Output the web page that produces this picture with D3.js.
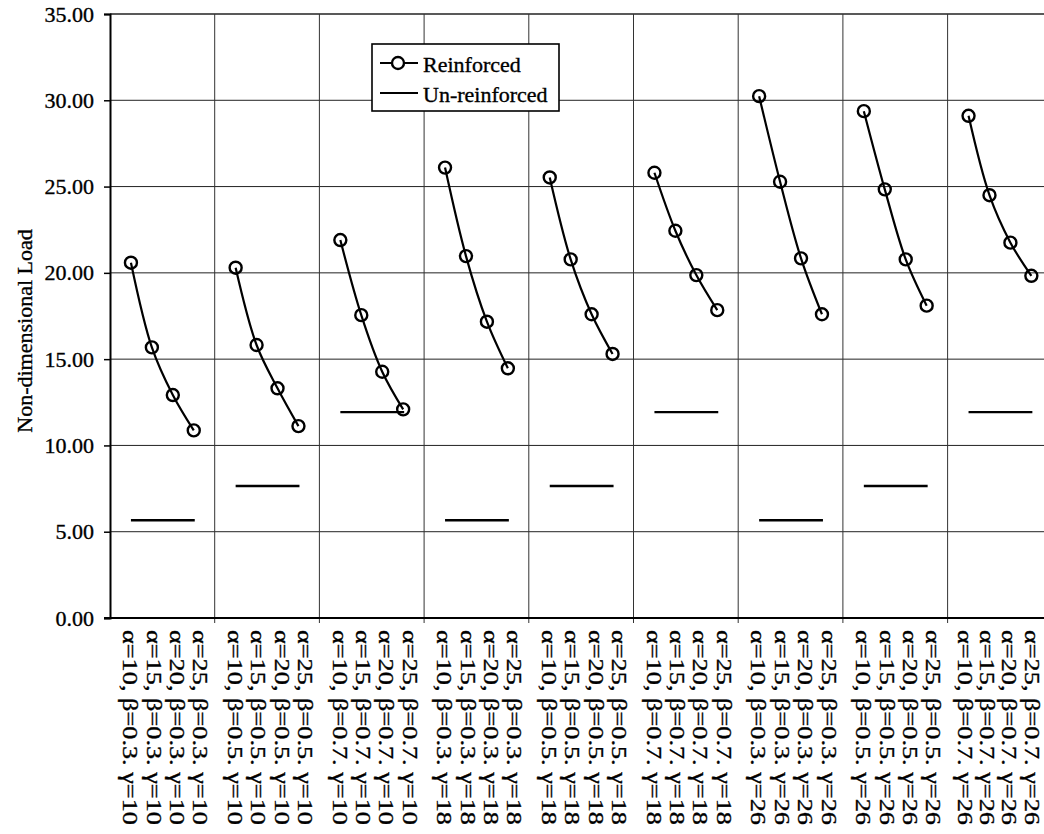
<!DOCTYPE html>
<html>
<head>
<meta charset="utf-8">
<script src="https://cdn.jsdelivr.net/npm/d3@7"></script>
<style>
  html, body { margin: 0; padding: 0; background: #fff; }
  svg { display: block; font-family: "Liberation Serif", "Times New Roman", serif; }
</style>
</head>
<body>
<svg id="chart" width="1044" height="834"></svg>
<script>
// ---- data ----
const alphas = [10, 15, 20, 25];
const betas = ["0.3", "0.5", "0.7", "0.3", "0.5", "0.7", "0.3", "0.5", "0.7"];
const gammas = [10, 10, 10, 18, 18, 18, 26, 26, 26];
const reinforced = [
  [20.59, 15.68, 12.92, 10.87],
  [20.30, 15.82, 13.31, 11.12],
  [21.90, 17.55, 14.27, 12.09],
  [26.10, 20.97, 17.17, 14.47],
  [25.53, 20.78, 17.60, 15.30],
  [25.80, 22.44, 19.87, 17.84],
  [30.24, 25.28, 20.84, 17.60],
  [29.37, 24.84, 20.78, 18.10],
  [29.10, 24.50, 21.75, 19.83]
];
const unreinforced = [5.66, 7.65, 11.93, 5.66, 7.65, 11.93, 5.66, 7.65, 11.93];
const yTicks = [0, 5, 10, 15, 20, 25, 30, 35];
const seriesNames = ["Reinforced", "Un-reinforced"];
const yTitle = "Non-dimensional Load";

// ---- layout ----
const plotLeft = 110, plotTop = 14, plotBottom = 618, groupW = 104.7;
const nG = betas.length;
const svg = d3.select("#chart");

const y = d3.scaleLinear().domain([0, 35]).range([plotBottom, plotTop]);
const xg = d3.scaleLinear().domain([0, nG]).range([plotLeft, plotLeft + nG * groupW]);
const xp = d3.scalePoint().domain(alphas).range([0.2, 0.8]);
const xl = d3.scalePoint().domain(alphas).range([0.127, 0.796]);
const xlLast = d3.scalePoint().domain(alphas).range([0.10, 0.735]); // squeezed at right edge
const px = (g, a) => xg(g + xp(a));
const txtStyle = sel => sel.attr("fill", "#000").attr("stroke", "#000").attr("stroke-width", 0.35);

// gridlines horizontal
svg.append("g").selectAll("line").data(yTicks.filter(d => d > 0)).join("line")
  .attr("x1", plotLeft).attr("x2", 1044)
  .attr("y1", d => y(d)).attr("y2", d => y(d))
  .attr("stroke", "#222").attr("stroke-width", d => d === 35 ? 1.6 : 1);

// gridlines vertical (group boundaries)
const bounds = d3.range(1, nG + 1);
svg.append("g").selectAll("line").data(bounds).join("line")
  .attr("x1", d => xg(d)).attr("x2", d => xg(d))
  .attr("y1", plotTop).attr("y2", plotBottom + 5)
  .attr("stroke", "#333").attr("stroke-width", 1);

// y axis
const yAxis = d3.axisLeft(y).tickValues(yTicks).tickFormat(d3.format(".2f")).tickSize(6).tickPadding(10);
const yg = svg.append("g").attr("transform", `translate(${plotLeft},0)`).call(yAxis);
yg.select(".domain").attr("stroke", "#000").attr("stroke-width", 2);
yg.selectAll(".tick line").attr("stroke", "#000").attr("stroke-width", 1.5);
yg.selectAll(".tick text").attr("font-family", "Liberation Serif, Times New Roman, serif")
  .attr("font-size", 22).call(txtStyle);

// x axis baseline
svg.append("line").attr("x1", plotLeft - 6).attr("x2", 1044)
  .attr("y1", plotBottom).attr("y2", plotBottom)
  .attr("stroke", "#000").attr("stroke-width", 2);

// x labels
const labels = [];
betas.forEach((b, g) => alphas.forEach(a => labels.push({g, a, text: `α=${a}, β=${b}. γ=${gammas[g]}`})));
svg.append("g").selectAll("text").data(labels).join("text")
  .attr("transform", d => `translate(${xg(d.g + (d.g === nG - 1 ? xlLast(d.a) : xl(d.a)))},${plotBottom + 12}) rotate(90)`)
  .attr("text-anchor", "start")
  .attr("font-size", 22)
  .attr("textLength", 195).attr("lengthAdjust", "spacingAndGlyphs")
  .call(txtStyle)
  .text(d => d.text);

// y title
svg.append("text").attr("transform", `translate(32,${(plotTop + plotBottom) / 2 + 15}) rotate(-90)`)
  .attr("text-anchor", "middle").attr("font-size", 22).call(txtStyle)
  .text(yTitle);

// un-reinforced lines
svg.append("g").selectAll("line").data(unreinforced).join("line")
  .attr("x1", (d, g) => px(g, alphas[0])).attr("x2", (d, g) => px(g, alphas[3]) + 1)
  .attr("y1", d => y(d)).attr("y2", d => y(d))
  .attr("stroke", "#000").attr("stroke-width", 2.4);

// reinforced curves
const line = d3.line().curve(d3.curveCatmullRom.alpha(0.5)).x(d => d.x).y(d => d.y);
reinforced.forEach((vals, g) => {
  const pts = vals.map((v, i) => ({x: px(g, alphas[i]), y: y(v)}));
  svg.append("path").attr("d", line(pts)).attr("fill", "none")
    .attr("stroke", "#000").attr("stroke-width", 2.2);
  svg.append("g").selectAll("circle").data(pts).join("circle")
    .attr("cx", d => d.x).attr("cy", d => d.y).attr("r", 6)
    .attr("fill", "none").attr("stroke", "#000").attr("stroke-width", 2.4);
});

// legend
const lg = svg.append("g");
lg.append("rect").attr("x", 372).attr("y", 44).attr("width", 187).attr("height", 67)
  .attr("fill", "#fff").attr("stroke", "#000").attr("stroke-width", 1.6);
lg.append("line").attr("x1", 380).attr("x2", 418).attr("y1", 63).attr("y2", 63)
  .attr("stroke", "#000").attr("stroke-width", 2);
lg.append("circle").attr("cx", 398).attr("cy", 63).attr("r", 6)
  .attr("fill", "#fff").attr("stroke", "#000").attr("stroke-width", 2.4);
lg.append("line").attr("x1", 380).attr("x2", 418).attr("y1", 93).attr("y2", 93)
  .attr("stroke", "#000").attr("stroke-width", 2);
lg.append("text").attr("x", 423).attr("y", 72).attr("font-size", 22).call(txtStyle).text(seriesNames[0]);
lg.append("text").attr("x", 423).attr("y", 102).attr("font-size", 22).call(txtStyle).text(seriesNames[1]);
</script>
</body>
</html>
